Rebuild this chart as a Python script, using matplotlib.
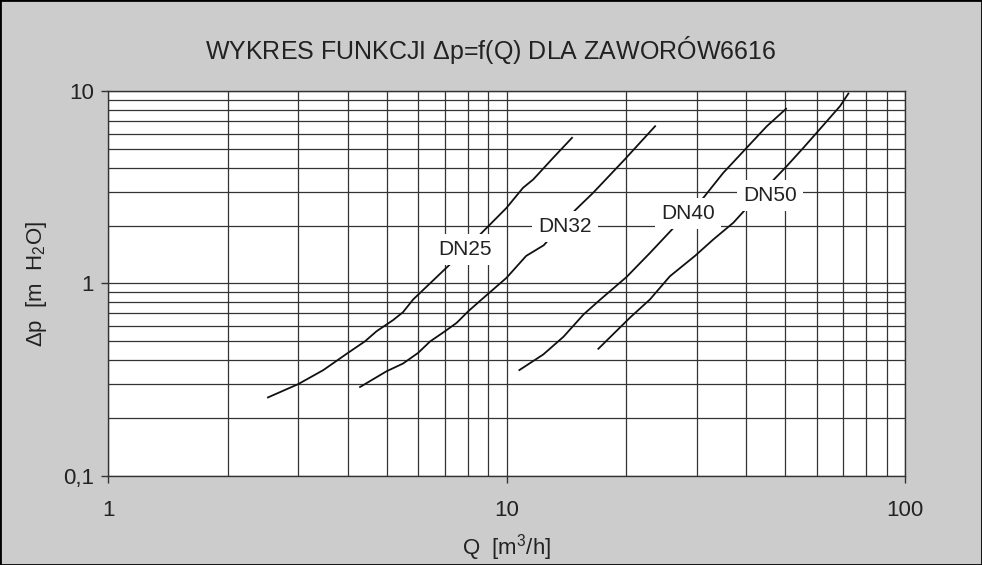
import matplotlib
matplotlib.use("Agg")
import matplotlib.pyplot as plt
from matplotlib.ticker import LogLocator, FixedLocator, FixedFormatter, NullFormatter
from matplotlib.patches import Rectangle

plt.rcParams['font.family'] = ['Liberation Sans', 'DejaVu Sans']
plt.rcParams['mathtext.fontset'] = 'custom'
plt.rcParams['mathtext.rm'] = 'Liberation Sans'
plt.rcParams['mathtext.it'] = 'Liberation Sans'

# flow Q [m3/h] and pressure drop dp [m H2O]
q_dn25 = [2.52, 3.0, 3.47, 4.0, 4.41, 4.72, 5.19, 5.5, 5.83, 7.28, 8.66, 10.0, 11.0, 11.67, 13.1, 14.6]
dp_dn25 = [0.256, 0.30, 0.355, 0.436, 0.50, 0.565, 0.645, 0.71, 0.826, 1.28, 1.83, 2.47, 3.14, 3.47, 4.5, 5.71]

q_dn32 = [4.29, 5.0, 5.5, 6.0, 6.43, 7.01, 7.5, 8.02, 8.66, 10.0, 11.2, 12.4, 14.86, 16.5, 19.8, 23.6]
dp_dn32 = [0.29, 0.35, 0.384, 0.436, 0.50, 0.565, 0.625, 0.718, 0.826, 1.07, 1.39, 1.58, 2.40, 2.96, 4.41, 6.56]

q_dn40 = [10.77, 12.37, 13.9, 15.6, 17.2, 20.0, 22.9, 27.0, 31.2, 35.0, 39.7, 45.0, 50.3]
dp_dn40 = [0.355, 0.428, 0.529, 0.69, 0.826, 1.08, 1.44, 2.07, 2.79, 3.76, 4.97, 6.56, 8.08]

q_dn50 = [17.0, 20.4, 22.9, 25.7, 29.7, 33.0, 37.1, 40.1, 46.9, 50.5, 55.6, 60.0, 68.7, 72.1]
dp_dn50 = [0.458, 0.664, 0.826, 1.09, 1.39, 1.69, 2.07, 2.47, 3.47, 4.07, 5.07, 6.06, 8.34, 9.7]

labels = ['DN25', 'DN32', 'DN40', 'DN50']
label_q = [7.87, 14.0, 28.5, 45.8]
label_dp = [1.50, 1.98, 2.31, 2.87]

fig = plt.figure(figsize=(9.82, 5.65), dpi=100, facecolor='#cccccc')
fig.patches.append(Rectangle((0, 0), 1, 1, transform=fig.transFigure,
                             fill=False, edgecolor='black', linewidth=2))
ax = fig.add_axes([0.110, 0.1575, 0.8116, 0.6815])
ax.set_facecolor('white')
ax.set_xscale('log')
ax.set_yscale('log')
ax.set_xlim(1, 100)
ax.set_ylim(0.1, 10)

ax.xaxis.set_minor_locator(LogLocator(base=10, subs=range(2, 10)))
ax.yaxis.set_minor_locator(LogLocator(base=10, subs=range(2, 10)))
ax.xaxis.set_minor_formatter(NullFormatter())
ax.yaxis.set_minor_formatter(NullFormatter())
ax.xaxis.set_major_locator(FixedLocator([1, 10, 100]))
ax.xaxis.set_major_formatter(FixedFormatter(['1', '10', '100']))
ax.yaxis.set_major_locator(FixedLocator([0.1, 1, 10]))
ax.yaxis.set_major_formatter(FixedFormatter(['0,1', '1', '10']))

ax.grid(True, which='both', color='#333333', linewidth=0.9)
ax.set_axisbelow(True)
ax.tick_params(which='minor', length=0)
ax.tick_params(which='major', direction='out', length=5, width=1, color='#333333',
               labelsize=16, colors='#222222')
ax.tick_params(axis='x', which='major', pad=12)
ax.tick_params(axis='y', which='major', pad=5)
for s in ax.spines.values():
    s.set_color('#333333')
    s.set_linewidth(1)

for q, dp in [(q_dn25, dp_dn25), (q_dn32, dp_dn32), (q_dn40, dp_dn40), (q_dn50, dp_dn50)]:
    ax.plot(q, dp, color='#111111', linewidth=1.3)

for name, lq, ld in zip(labels, label_q, label_dp):
    ax.text(lq, ld, name, fontsize=15, color='#222222', ha='center', va='center',
            bbox=dict(boxstyle='square,pad=0.3', facecolor='white', edgecolor='none'))

fig.text(0.5, 0.9115, r'WYKRES FUNKCJI $\Delta$p=f(Q) DLA ZAWORÓW6616', ha='center',
         va='center', fontsize=18, color='#222222')
ax.set_xlabel(r'Q  [m$^3$/h]', fontsize=16, color='#222222', labelpad=8)
ax.set_ylabel(r'$\Delta$p  [m  H$_2$O]', fontsize=16, color='#222222', labelpad=10)

fig.savefig('out.png', dpi=100, facecolor=fig.get_facecolor())
